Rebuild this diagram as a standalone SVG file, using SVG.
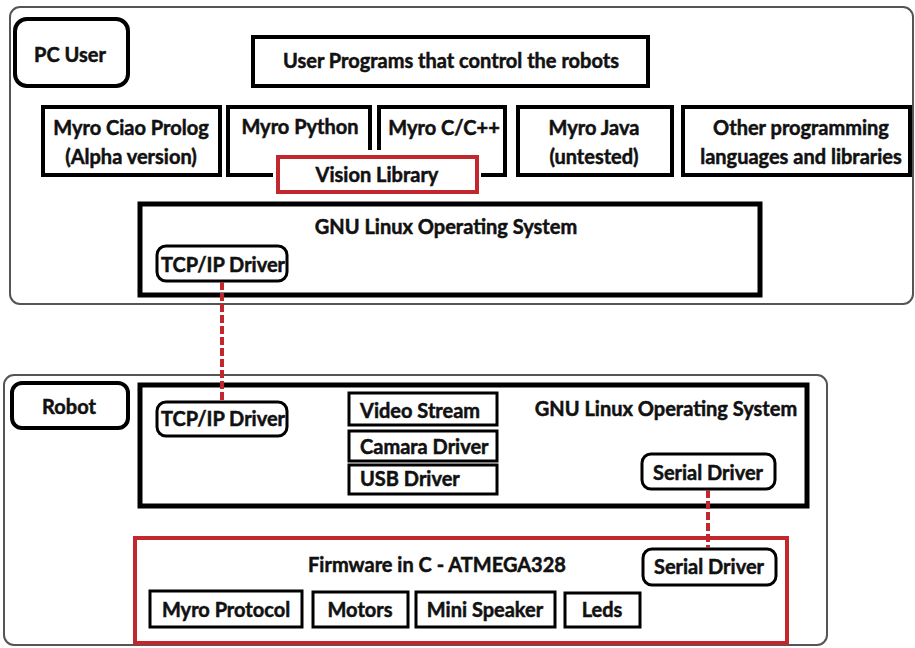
<svg xmlns="http://www.w3.org/2000/svg" width="915" height="648" viewBox="0 0 915 648">
<style>
  text { font-family: Lato, "Liberation Sans", sans-serif; font-weight: bold; font-size: 20px; fill: #111; stroke: #111; stroke-width: 0.5; }
  .outer { fill: #fff; stroke: #555; stroke-width: 2; }
  .label { fill: #fff; stroke: #000; stroke-width: 4; }
  .big { fill: #fff; stroke: #000; stroke-width: 4; }
  .os { fill: #fff; stroke: #000; stroke-width: 5; }
  .small { fill: #fff; stroke: #000; stroke-width: 3; }
  .pill { fill: #fff; stroke: #000; stroke-width: 3; }
  .red { fill: #fff; stroke: #c1272d; stroke-width: 4; }
  .mid { text-anchor: middle; }
  .link { stroke: #c1272d; stroke-width: 4; stroke-dasharray: 8 3; fill: none; }
</style>
<rect width="915" height="648" fill="#fff"/>

<g id="pc">
  <rect class="outer" x="10" y="7" width="903" height="297" rx="10"/>
</g>
<g id="pc-user">
  <rect class="label" x="15" y="19" width="113" height="67" rx="12"/>
  <text class="mid" x="70" y="62">PC User</text>
</g>
<g id="user-programs">
  <rect class="big" x="253" y="37" width="395" height="49"/>
  <text class="mid" x="451" y="68">User Programs that control the robots</text>
</g>
<g id="myro-prolog">
  <rect class="big" x="43" y="107" width="177" height="68"/>
  <text class="mid" x="131" y="135">Myro Ciao Prolog</text>
  <text class="mid" x="131" y="164">(Alpha version)</text>
</g>
<g id="myro-python">
  <rect class="big" x="228" y="107" width="142" height="68"/>
  <text class="mid" x="300" y="134">Myro Python</text>
</g>
<g id="myro-c">
  <rect class="big" x="379" y="107" width="126" height="68"/>
  <text class="mid" x="444" y="135">Myro C/C++</text>
</g>
<g id="vision-library">
  <rect x="273" y="150" width="208" height="46" fill="#fff"/>
  <rect class="red" x="278" y="157" width="199" height="35"/>
  <text class="mid" x="377" y="182">Vision Library</text>
</g>
<g id="myro-java">
  <rect class="big" x="518" y="107" width="154" height="68"/>
  <text class="mid" x="594" y="135">Myro Java</text>
  <text class="mid" x="594" y="164">(untested)</text>
</g>
<g id="other-languages">
  <rect class="big" x="683" y="107" width="227" height="68"/>
  <text class="mid" x="801" y="135">Other programming</text>
  <text class="mid" x="801" y="164">languages and libraries</text>
</g>
<g id="pc-os">
  <rect class="os" x="140" y="204" width="620" height="91"/>
  <text class="mid" x="446" y="234">GNU Linux Operating System</text>
</g>
<g id="pc-tcp">
  <rect class="pill" x="157" y="246" width="130" height="35" rx="9"/>
  <text class="mid" x="223" y="272">TCP/IP Driver</text>
</g>

<g id="robot">
  <rect class="outer" x="4" y="375" width="823" height="270" rx="10"/>
</g>
<g id="robot-label">
  <rect class="label" x="12" y="383" width="116" height="45" rx="10"/>
  <text class="mid" x="69" y="414">Robot</text>
</g>
<g id="robot-os">
  <rect class="os" x="140" y="385" width="667" height="121"/>
  <text class="mid" x="666" y="416">GNU Linux Operating System</text>
</g>
<g id="robot-tcp">
  <rect class="pill" x="157" y="402" width="130" height="34" rx="9"/>
  <text class="mid" x="223" y="426">TCP/IP Driver</text>
</g>
<g id="video-stream">
  <rect class="small" x="349" y="393" width="148" height="32"/>
  <text x="360" y="418">Video Stream</text>
</g>
<g id="camara-driver">
  <rect class="small" x="349" y="431" width="148" height="30"/>
  <text x="360" y="454">Camara Driver</text>
</g>
<g id="usb-driver">
  <rect class="small" x="349" y="465" width="148" height="29"/>
  <text x="360" y="486">USB Driver</text>
</g>
<g id="robot-serial">
  <rect class="pill" x="642" y="454" width="133" height="35" rx="9"/>
  <text class="mid" x="708" y="480">Serial Driver</text>
</g>
<g id="firmware">
  <rect class="red" x="135" y="538" width="652" height="105"/>
  <text class="mid" x="437" y="572">Firmware in C - ATMEGA328</text>
</g>
<g id="fw-serial">
  <rect class="pill" x="643" y="549" width="133" height="36" rx="9"/>
  <text class="mid" x="709" y="574">Serial Driver</text>
</g>
<g id="myro-protocol">
  <rect class="small" x="150" y="591" width="152" height="36"/>
  <text class="mid" x="226" y="617">Myro Protocol</text>
</g>
<g id="motors">
  <rect class="small" x="313" y="592" width="95" height="35"/>
  <text class="mid" x="360" y="617">Motors</text>
</g>
<g id="mini-speaker">
  <rect class="small" x="416" y="592" width="139" height="35"/>
  <text class="mid" x="485" y="617">Mini Speaker</text>
</g>
<g id="leds">
  <rect class="small" x="565" y="593" width="75" height="34"/>
  <text class="mid" x="602" y="617">Leds</text>
</g>

<g id="connectors">
  <line class="link" x1="222" y1="282" x2="222" y2="401"/>
  <line class="link" x1="708" y1="490" x2="708" y2="548"/>
</g>
</svg>
